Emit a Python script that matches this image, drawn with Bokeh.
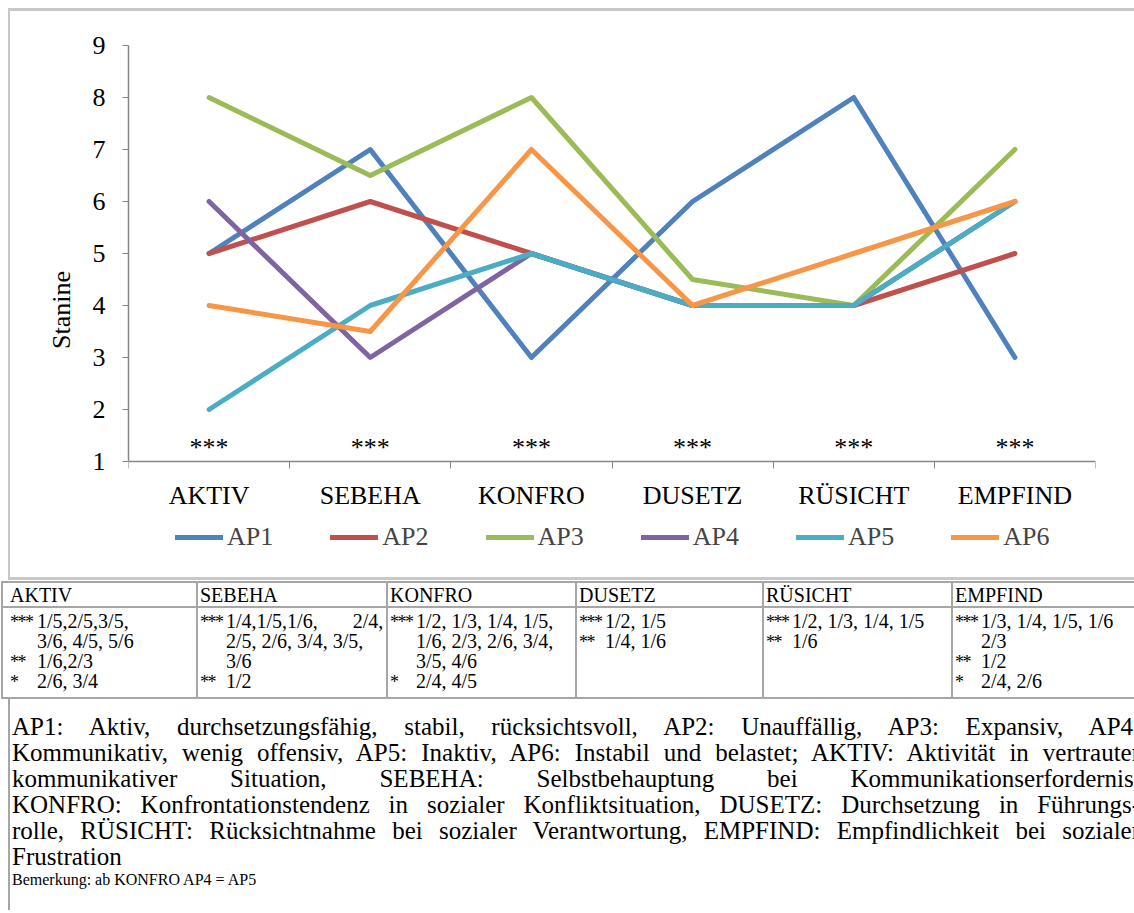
from bokeh.plotting import figure
from bokeh.models import Range1d, FixedTicker, Legend, LegendItem, Div
from bokeh.layouts import column
from bokeh.core.properties import value
from bokeh.embed import file_html
from bokeh.resources import INLINE

# ---------------- data ----------------
categories = ["AKTIV", "SEBEHA", "KONFRO", "DUSETZ", "RÜSICHT", "EMPFIND"]
series_names = ["AP1", "AP2", "AP3", "AP4", "AP5", "AP6"]
ap1 = [5, 7, 3, 6, 8, 3]
ap2 = [5, 6, 5, 4, 4, 5]
ap3 = [8, 6.5, 8, 4.5, 4, 7]
ap4 = [6, 3, 5, 4, 4, 6]
ap5 = [2, 4, 5, 4, 4, 6]
ap6 = [4, 3.5, 7, 4, 5, 6]
significance = ["***", "***", "***", "***", "***", "***"]
y_ticks = [1, 2, 3, 4, 5, 6, 7, 8, 9]
y_label = "Stanine"
colors = ["#4F81BD", "#C0504D", "#9BBB59", "#8064A2", "#4BACC6", "#F79646"]

table_headers = ["AKTIV", "SEBEHA", "KONFRO", "DUSETZ", "RÜSICHT", "EMPFIND"]
table_aktiv = [("***", "1/5,2/5,3/5,"), ("", "3/6, 4/5, 5/6"), ("**", "1/6,2/3"), ("*", "2/6, 3/4")]
table_sebeha = [("***", "1/4,1/5,1/6,       2/4,"), ("", "2/5, 2/6, 3/4, 3/5,"), ("", "3/6"), ("**", "1/2")]
table_konfro = [("***", "1/2, 1/3, 1/4, 1/5,"), ("", "1/6, 2/3, 2/6, 3/4,"), ("", "3/5, 4/6"), ("*", "2/4, 4/5")]
table_dusetz = [("***", "1/2, 1/5"), ("**", "1/4, 1/6")]
table_ruesicht = [("***", "1/2, 1/3, 1/4, 1/5"), ("**", "1/6")]
table_empfind = [("***", "1/3, 1/4, 1/5, 1/6"), ("", "2/3"), ("**", "1/2"), ("*", "2/4, 2/6")]

note_lines = [
    "AP1: Aktiv, durchsetzungsfähig, stabil, rücksichtsvoll, AP2: Unauffällig, AP3: Expansiv, AP4:",
    "Kommunikativ, wenig offensiv, AP5: Inaktiv, AP6: Instabil und belastet; AKTIV: Aktivität in vertrauter",
    "kommunikativer Situation, SEBEHA: Selbstbehauptung bei Kommunikationserfordernis,",
    "KONFRO: Konfrontationstendenz in sozialer Konfliktsituation, DUSETZ: Durchsetzung in Führungs-",
    "rolle, RÜSICHT: Rücksichtnahme bei sozialer Verantwortung, EMPFIND: Empfindlichkeit bei sozialer",
    "Frustration",
]
remark = "Bemerkung: ab KONFRO AP4 = AP5"

SERIF = "Liberation Serif"
GRAY = "#868686"

# ---------------- chart ----------------
# frame: page y 45 (=9) .. 574, 52 px per Stanine unit
PX_PER_UNIT = 52
FRAME_H = 572 - 37 - 6
y_bottom = 9 - FRAME_H / PX_PER_UNIT
xpos = [i + 0.5 for i in range(len(categories))]
p = figure(width=1126, height=572, x_range=Range1d(0, len(categories)), y_range=Range1d(y_bottom, 9),
           toolbar_location=None, output_backend="svg",
           min_border_left=120, min_border_right=39, min_border_top=37, min_border_bottom=6,
           margin=(0, 0, 0, 8))
p.border_fill_color = None
p.background_fill_color = None
p.outline_line_color = None
p.xgrid.visible = False
p.ygrid.visible = False
p.styles = {"box-shadow": "inset 2px 3px 0 0 #c8c8c8, inset 0 -3px 0 0 #c8c8c8"}

renderers = []
for vals, col in zip([ap1, ap2, ap3, ap4, ap5, ap6], colors):
    r = p.line(xpos, vals, line_color=col, line_width=5, line_cap="round", line_join="round")
    renderers.append(r)

p.text(x=xpos, y=[1.26] * len(xpos), text=significance, text_font=value(SERIF),
       text_font_size="26px", text_align="center", text_baseline="middle", text_color="black")

# x axis (drawn at Stanine = 1)
xa = p.xaxis[0]
xa.fixed_location = 1
xa.ticker = FixedTicker(ticks=xpos, minor_ticks=list(range(len(categories) + 1)))
xa.major_label_overrides = {x: c for x, c in zip(xpos, categories)}
xa.major_tick_line_color = None
xa.major_tick_out = 0
xa.major_tick_in = 0
xa.minor_tick_line_color = GRAY
xa.minor_tick_out = 7
xa.minor_tick_in = 0
xa.axis_line_color = GRAY
xa.axis_line_width = 1.5
xa.major_label_text_font = SERIF
xa.major_label_text_font_size = "26px"
xa.major_label_text_color = "black"
xa.major_label_standoff = 12

# y axis
ya = p.yaxis[0]
ya.bounds = (1, 9)
ya.ticker = FixedTicker(ticks=y_ticks, minor_ticks=[])
ya.axis_line_color = GRAY
ya.axis_line_width = 1.5
ya.major_tick_line_color = GRAY
ya.major_tick_out = 6
ya.major_tick_in = 0
ya.minor_tick_line_color = None
ya.major_label_text_font = SERIF
ya.major_label_text_font_size = "26px"
ya.major_label_text_color = "black"
ya.major_label_standoff = 17
ya.axis_label = y_label
ya.axis_label_text_font = SERIF
ya.axis_label_text_font_size = "26px"
ya.axis_label_text_font_style = "normal"
ya.axis_label_text_color = "black"
ya.axis_label_standoff = 14

legend = Legend(items=[LegendItem(label=n, renderers=[r]) for n, r in zip(series_names, renderers)],
                orientation="horizontal", location=(47, 22), glyph_width=48, glyph_height=26,
                label_standoff=4, spacing=57, padding=4, margin=0,
                border_line_color=None, background_fill_alpha=0,
                label_text_font=SERIF, label_text_font_size="26px")
p.add_layout(legend, "center")

# ---------------- table & notes (HTML) ----------------
OX, OY = 0, 580  # page origin of the div
TB = "#a6a6a6"
parts = []


def hline(y, x0, x1):
    parts.append(f'<div style="position:absolute;left:{x0 - OX}px;top:{y - OY - 1}px;'
                 f'width:{x1 - x0}px;height:2px;background:{TB}"></div>')


def vline(x, y0, y1):
    parts.append(f'<div style="position:absolute;left:{x - OX - 1}px;top:{y0 - OY}px;'
                 f'width:2px;height:{y1 - y0}px;background:{TB}"></div>')


def txt(x, ycenter, s, size, lh, extra=""):
    parts.append(f'<div style="position:absolute;left:{x - OX}px;top:{ycenter - OY - lh / 2}px;'
                 f'font-size:{size}px;line-height:{lh}px;white-space:pre;{extra}">{s}</div>')


col_left = [2, 197, 387, 576, 763, 952]
row_top, row_head, row_body = 582, 607, 698
for yy in (row_top, row_head, row_body):
    hline(yy, 1, 1150)
for xx in col_left:
    vline(xx, row_top, row_body)
vline(9, row_body, 915)

cells = [table_aktiv, table_sebeha, table_konfro, table_dusetz, table_ruesicht, table_empfind]
for left, head, cell in zip(col_left, table_headers, cells):
    first = left < 8
    hx = 10 if first else left + 3
    sx = 10 if first else left + 3
    vx = 37 if first else left + 29
    txt(hx, 595, head, 20, 20)
    for k, (stars, s) in enumerate(cell):
        yy = 621 + 20 * k
        if stars:
            txt(sx, yy + 1, stars, 18, 20, "letter-spacing:-1.5px")
        txt(vx, yy, s, 20, 20)

for i, line in enumerate(note_lines):
    yc = 727 + 26 * i
    last = i == len(note_lines) - 1
    align = "left" if last else "justify"
    parts.append(f'<div style="position:absolute;left:{12 - OX}px;top:{yc - OY - 13}px;width:{1140 - 12}px;'
                 f'font-size:25px;line-height:26px;text-align:{align};text-align-last:{align};'
                 f'white-space:nowrap">{line}</div>')
txt(12, 880, remark, 16, 18)

html = (f'<div style="position:relative;width:1134px;height:330px;overflow:hidden;'
        f'font-family:\'{SERIF}\';color:black">' + "".join(parts) + '</div>')
notes = Div(text=html, width=1134, height=330, margin=0, styles={"overflow": "hidden"})

layout = column(p, notes, spacing=0, margin=(8, 0, 0, 0))
open("out.html", "w").write(file_html(layout, INLINE))
